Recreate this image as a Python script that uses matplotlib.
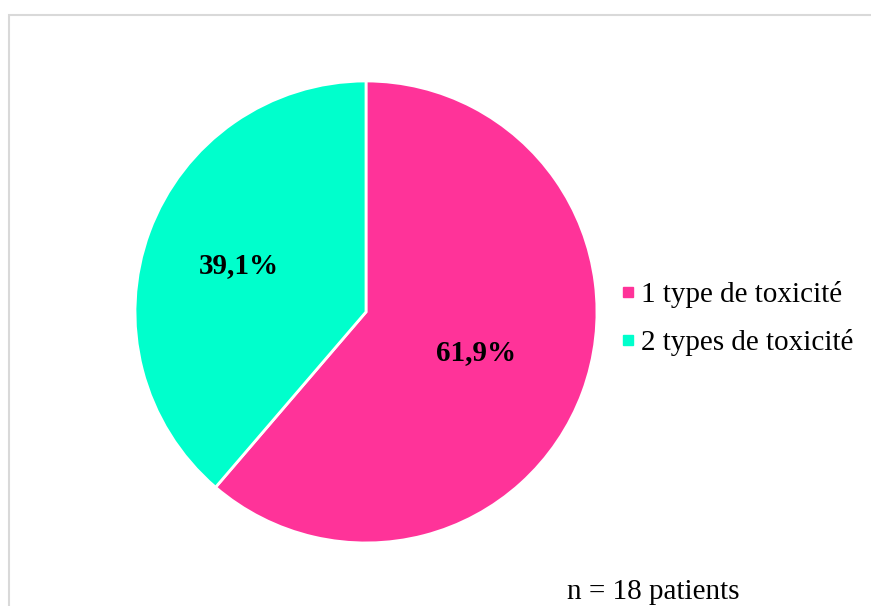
import numpy as np
import matplotlib
matplotlib.use('Agg')
import matplotlib.pyplot as plt
from matplotlib.lines import Line2D
from matplotlib.patches import Rectangle

categories = ['1 type de toxicité', '2 types de toxicité']
values = [61.9, 39.1]
pct_labels = ['61,9%', '39,1%']
colors = ['#FF3399', '#00FFCC']
label_radius = [0.51, 0.585]  # distance of each % label from the centre

plt.rcParams['font.family'] = ['Liberation Serif', 'DejaVu Serif']

fig = plt.figure(figsize=(8.71, 6.06), dpi=100)

# light grey frame around the chart area (runs off the right/bottom edge)
fig.patches.append(Rectangle((9 / 871, -0.1), 1.2, 1.075, transform=fig.transFigure,
                             fill=False, edgecolor='#d9d9d9', linewidth=1.5))

ax = fig.add_axes([0.155, 0.104, 0.5304, 0.7624])
wedges, _ = ax.pie(values, colors=colors, startangle=90, counterclock=False,
                   wedgeprops=dict(edgecolor='white', linewidth=2))
ax.set_xlim(-1, 1)
ax.set_ylim(-1, 1)
ax.set_aspect('equal')

# percentage labels placed at the middle angle of each wedge
for w, txt, r in zip(wedges, pct_labels, label_radius):
    mid = np.deg2rad((w.theta1 + w.theta2) / 2)
    ax.text(r * np.cos(mid), r * np.sin(mid), txt, ha='center', va='center',
            fontsize=21, fontweight='bold', color='black')

handles = [Line2D([0], [0], marker='s', linestyle='none', markersize=7,
                  markerfacecolor=c, markeredgecolor=c) for c in colors]
fig.legend(handles, categories, loc='center left', bbox_to_anchor=(0.697, 0.474),
           frameon=False, fontsize=21, handlelength=0.6, handletextpad=0.15,
           labelspacing=0.72, borderaxespad=0)

fig.text(567 / 871, 0.012, 'n = 18 patients', fontsize=21, va='baseline', ha='left')

fig.savefig('out.png', dpi=100)
